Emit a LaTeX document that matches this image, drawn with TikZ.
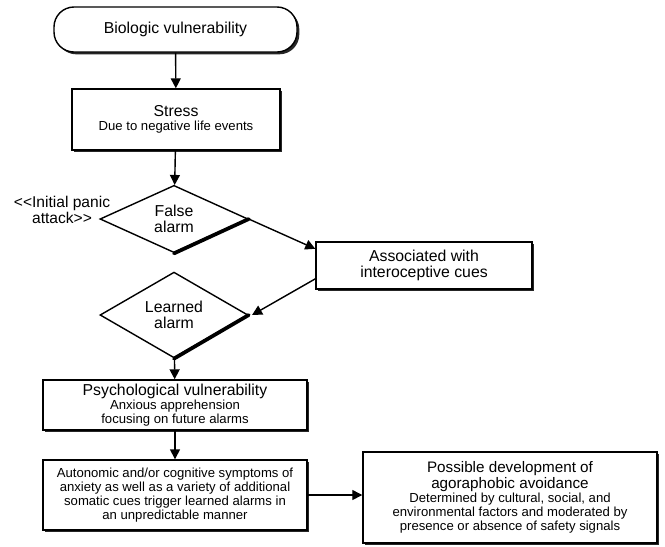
\documentclass[tikz,border=0pt]{standalone}
\usepackage{fontspec}
\setmainfont{Liberation Sans}
\newcommand\headline{\fontsize{13.5}{14}\selectfont}
\newcommand\subline{\fontsize{11.2}{11.8}\selectfont}
\usetikzlibrary{arrows.meta,shapes.geometric,shadows}
\begin{document}
\begin{tikzpicture}[x=0.03cm,y=-0.03cm,
        box/.style={draw,line width=1.2pt,fill=white,align=center,inner sep=0pt,
            drop shadow={shadow xshift=0.07cm,shadow yshift=-0.07cm,fill=black,opacity=0.85}},
        alarm/.style={draw,line width=1.2pt,diamond,align=center,inner sep=0pt,
            font=\fontsize{13.5}{13.8}\selectfont},
        flow/.style={line width=1.2pt,-{Triangle[length=0.3cm,width=0.3cm]}},
        title/.style={font=\headline}]
        \useasboundingbox (0,0) rectangle (665,546);
        %% Boxes
        \node[box,rounded corners=0.6cm,minimum width=7.29cm,minimum height=1.35cm,title]
            (bio) at (175.5,29.5) {Biologic vulnerability};
        \node[box,minimum width=6.24cm,minimum height=1.83cm] (stress) at (176,119.5)
            {\headline Stress\\
             \subline Due to negative life events};
        \node[alarm,minimum width=4.44cm,minimum height=2.01cm] (fa) at (174,219)
            {False\\alarm};
        \node[box,minimum width=6.48cm,minimum height=1.41cm,
            font=\fontsize{13.5}{13}\selectfont] (assoc) at (424,265.5)
            {Associated with\\interoceptive cues};
        \node[alarm,minimum width=4.44cm,minimum height=1.71cm] (la) at (174,315)
            {Learned\\alarm};
        \node[box,minimum width=7.92cm,minimum height=1.5cm] (psych) at (175,405)
            {\headline Psychological vulnerability\\
             \subline Anxious apprehension\\
             \subline focusing on future alarms};
        \node[box,minimum width=7.92cm,minimum height=2.1cm,font=\subline] (auton) at (175,495)
            {Autonomic and/or cognitive symptoms of\\
             anxiety as well as a variety of additional\\
             somatic cues trigger learned alarms in\\
             an unpredictable manner};
        \node[box,minimum width=8.82cm,minimum height=2.73cm] (poss) at (510,497.5)
            {\fontsize{13}{13}\selectfont Possible development of\\
             \fontsize{13}{13}\selectfont agoraphobic avoidance\\
             \subline Determined by cultural, social, and\\
             \subline environmental factors and moderated by\\
             \subline presence or absence of safety signals};
        %% Thick lower edges of the alarms
        \draw[line width=3.2pt,line cap=round] (fa.east) -- (fa.south);
        \draw[line width=3.2pt,line cap=round] (la.east) -- (la.south);
        %% Label of the first alarm
        \node[align=center,font=\fontsize{13.3}{13.5}\selectfont] (initial) at (62,210)
            {<{}<Initial panic\\attack>{}>};
        %% Arrows
        \draw[flow] (bio) -- (stress);
        \draw[flow] (stress) -- (fa);
        \draw[flow] (fa.east) -- ([yshift=0.5cm]assoc.west);
        \draw[flow] ([yshift=-0.4cm]assoc.west) -- ([xshift=0.1cm]la.east);
        \draw[flow] (la) -- (psych);
        \draw[flow] (psych) -- (auton);
        \draw[flow] (auton.east) -- (auton.east -| poss.west);
    \end{tikzpicture}
\end{document}
